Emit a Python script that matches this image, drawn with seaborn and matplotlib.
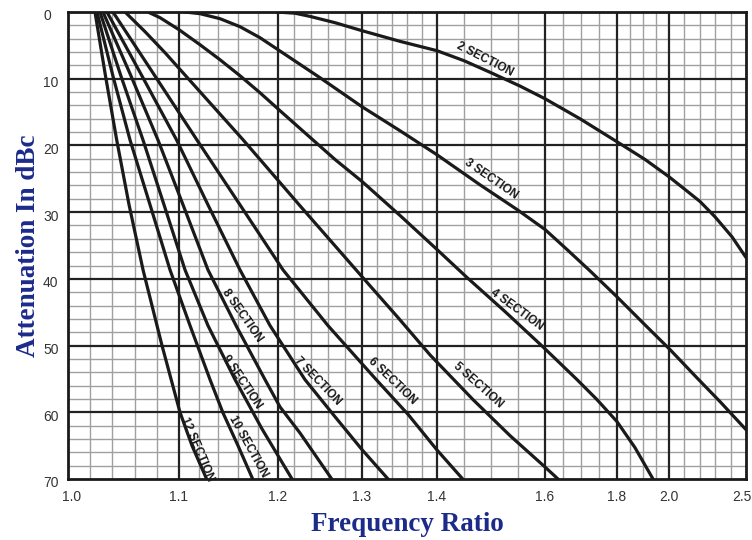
import numpy as np
import pandas as pd
import matplotlib
matplotlib.use("Agg")
import matplotlib.pyplot as plt
import matplotlib.transforms as mtrans
import seaborn as sns

# ---- axis definitions ----
x_major = [1.0, 1.1, 1.2, 1.3, 1.4, 1.6, 1.8, 2.0, 2.5]
x_major_px = [68, 179, 277.5, 362, 437, 545, 617, 669, 746]  # drawn positions of the printed ratio grid
x_minor = [1.02, 1.04, 1.06, 1.08, 1.12, 1.14, 1.16, 1.18, 1.22, 1.24, 1.26, 1.28,
           1.32, 1.34, 1.36, 1.38, 1.45, 1.5, 1.55, 1.65, 1.7, 1.75, 1.85, 1.9, 1.95,
           2.1, 2.2, 2.3, 2.4]
x_labels = ["1.0", "1.1", "1.2", "1.3", "1.4", "1.6", "1.8", "2.0", "2.5"]
y_major = [0, 10, 20, 30, 40, 50, 60, 70]
y_labels = ["0", "10", "20", "30", "40", "50", "60", "70"]

# ---- curve data: frequency ratio vs attenuation (dBc) ----
sec2_x = [1.199, 1.2207, 1.2385, 1.268, 1.30, 1.3507, 1.40, 1.45, 1.50, 1.5537, 1.60, 1.6972,
          1.80, 1.9077, 2.00, 2.1039, 2.2013, 2.2987, 2.4091, 2.50]
sec2_y = [0, 0.18, 0.66, 1.6, 2.8, 4.4, 5.8, 7.3, 9.1, 11.1, 13.0, 16.0,
          19.45, 22.1, 24.7, 26.6, 28.4, 30.7, 33.7, 36.8]

sec3_x = [1.106, 1.1213, 1.1416, 1.1619, 1.1822, 1.2077, 1.2503, 1.30, 1.3507, 1.40, 1.4796,
          1.5481, 1.60, 1.6611, 1.725, 1.80, 1.9077, 2.0065, 2.1883, 2.3312, 2.50]
sec3_y = [0, 0.25, 1.0, 2.2, 3.85, 6.25, 9.85, 14.2, 17.8, 21.4, 25.9,
          29.6, 32.6, 35.6, 38.8, 42.7, 46.9, 50.6, 55.0, 58.4, 62.6]

sec4_x = [1.072, 1.0829, 1.10, 1.1213, 1.1416, 1.1619, 1.1822, 1.203, 1.268, 1.30, 1.3507,
          1.40, 1.4556, 1.5259, 1.5963, 1.6889, 1.7444, 1.80, 1.8692, 1.9385]
sec4_y = [0, 0.85, 2.65, 4.9, 7.15, 9.55, 12.1, 14.8, 22.1, 25.4, 30.5,
          35.6, 39.8, 44.9, 50.2, 55.1, 58.1, 61.4, 65.3, 70]

sec5_x = [1.0514, 1.0694, 1.0874, 1.1213, 1.165, 1.2266, 1.2988, 1.348, 1.3907, 1.4667,
          1.5352, 1.60, 1.6361]
sec5_y = [0, 2.95, 6.1, 11.95, 19.15, 29.04, 39.5, 45.8, 51.4, 58.1, 63.5, 68.2, 70]

sec6_x = [1.0405, 1.0784, 1.1183, 1.1619, 1.2065, 1.2597, 1.3189, 1.3613, 1.3996, 1.4476]
sec6_y = [0, 9.6, 19.2, 28.9, 38.65, 47.0, 55.1, 60.3, 65.6, 70]

sec7_x = [1.0351, 1.0667, 1.0979, 1.1294, 1.1619, 1.1924, 1.2325, 1.2657, 1.30, 1.3347]
sec7_y = [0, 9.6, 19.2, 28.9, 38.65, 47.0, 55.1, 60.3, 65.6, 70]

sec8_x = [1.0315, 1.0568, 1.0811, 1.1041, 1.1294, 1.1579, 1.1873, 1.203, 1.2266, 1.2642]
sec8_y = [0, 9.6, 19.2, 28.9, 38.65, 47.0, 55.1, 59.2, 63.1, 70]

sec9_x = [1.0288, 1.0477, 1.0676, 1.0865, 1.1061, 1.1294, 1.1569, 1.1843, 1.2172]
sec9_y = [0, 9.6, 19.2, 28.9, 38.65, 47.0, 55.1, 62.5, 70]

sec10_x = [1.0261, 1.0405, 1.0559, 1.0739, 1.0919, 1.1112, 1.1315, 1.1447, 1.1599, 1.1748]
sec10_y = [0, 9.6, 19.2, 28.9, 38.65, 47.0, 55.1, 60.1, 65.0, 70]

sec12_x = [1.0243, 1.0338, 1.0439, 1.055, 1.0676, 1.0847, 1.101, 1.1132, 1.128]
sec12_y = [0, 9.6, 19.2, 28.9, 38.65, 50.0, 60.0, 65.0, 70]

curve_names = ["2 SECTION", "3 SECTION", "4 SECTION", "5 SECTION", "6 SECTION",
               "7 SECTION", "8 SECTION", "9 SECTION", "10 SECTION", "12 SECTION"]
curve_x = [sec2_x, sec3_x, sec4_x, sec5_x, sec6_x, sec7_x, sec8_x, sec9_x, sec10_x, sec12_x]
curve_y = [sec2_y, sec3_y, sec4_y, sec5_y, sec6_y, sec7_y, sec8_y, sec9_y, sec10_y, sec12_y]

# label anchor (ratio, dB) and angle
label_x = [1.489, 1.50, 1.548, 1.476, 1.34, 1.248, 1.164, 1.164, 1.17, 1.118]
label_y = [7.15, 25.1, 44.6, 55.9, 55.4, 55.4, 45.5, 55.4, 65.2, 65.5]
label_rot = [-27, -34.6, -36, -41.6, -43.8, -46, -55, -56, -61, -67]

# ---- build long-form data ----
frames = []
for name, xs, ys in zip(curve_names, curve_x, curve_y):
    frames.append(pd.DataFrame({"ratio": xs, "atten": ys, "curve": name}))
df = pd.concat(frames, ignore_index=True)

sns.set_theme(style="white")
plt.rcParams["font.family"] = ["Liberation Sans", "DejaVu Sans"]

fig = plt.figure(figsize=(7.52, 5.40), dpi=100)
ax = fig.add_axes([68 / 752, 1 - 479 / 540, (746 - 68) / 752, (479 - 12) / 540])


def fwd(v):
    return np.interp(v, x_major, x_major_px)


def inv(p):
    return np.interp(p, x_major_px, x_major)


ax.set_xscale("function", functions=(fwd, inv))
ax.set_xlim(1.0, 2.5)
ax.set_ylim(70, 0)

# grid
for v in x_minor:
    ax.axvline(v, color="#a0a0a0", lw=1.0, zorder=1)
for v in np.arange(2, 70, 2):
    if v % 10:
        ax.axhline(v, color="#a0a0a0", lw=1.0, zorder=1)
for v in x_major[1:-1]:
    ax.axvline(v, color="#222222", lw=1.6, zorder=2)
for v in y_major[1:-1]:
    ax.axhline(v, color="#222222", lw=1.6, zorder=2)

sns.lineplot(data=df, x="ratio", y="atten", hue="curve", units="curve",
             estimator=None, sort=False, palette=["#1a1a1a"] * len(curve_names),
             linewidth=2.3, legend=False, ax=ax, zorder=3)
ax.set_xlim(1.0, 2.5)
ax.set_ylim(70, 0)

for name, lx, ly, r in zip(curve_names, label_x, label_y, label_rot):
    ax.text(lx, ly, name, rotation=r, rotation_mode="anchor", ha="center", va="center",
            fontsize=8.5, fontweight="bold", color="#1a1a1a", zorder=4,
            family=["Liberation Sans", "DejaVu Sans"])

ax.set_xticks(x_major)
ax.set_xticklabels(x_labels)
ax.set_yticks(y_major)
ax.set_yticklabels(y_labels, ha="left")
ax.tick_params(axis="x", length=0, pad=8, labelsize=10, labelcolor="#333333")
ax.tick_params(axis="y", length=0, pad=18, labelsize=10, labelcolor="#333333")
ax.minorticks_off()

# small nudges so edge labels sit like the printed ones
xt = ax.get_xticklabels()
xt[0].set_transform(xt[0].get_transform() + mtrans.ScaledTranslation(4 / 100, 0, fig.dpi_scale_trans))
xt[-1].set_transform(xt[-1].get_transform() + mtrans.ScaledTranslation(-4 / 100, 0, fig.dpi_scale_trans))
for lab in ax.get_yticklabels():
    lab.set_transform(lab.get_transform() + mtrans.ScaledTranslation(0, -3 / 100, fig.dpi_scale_trans))

for s in ax.spines.values():
    s.set_visible(True)
    s.set_color("#1a1a1a")
    s.set_linewidth(2.0)

ax.set_xlabel("Frequency Ratio", fontsize=19.5, fontweight="bold", color="#1c2a8a",
              family=["Liberation Serif", "DejaVu Serif"])
ax.set_ylabel("Attenuation In dBc", fontsize=19.5, fontweight="bold", color="#1c2a8a",
              family=["Liberation Serif", "DejaVu Serif"])
ax.yaxis.set_label_coords(-27 / 678, 0.5)
ax.xaxis.set_label_coords(0.5, -33 / 467)

fig.savefig("out.png", dpi=100)
